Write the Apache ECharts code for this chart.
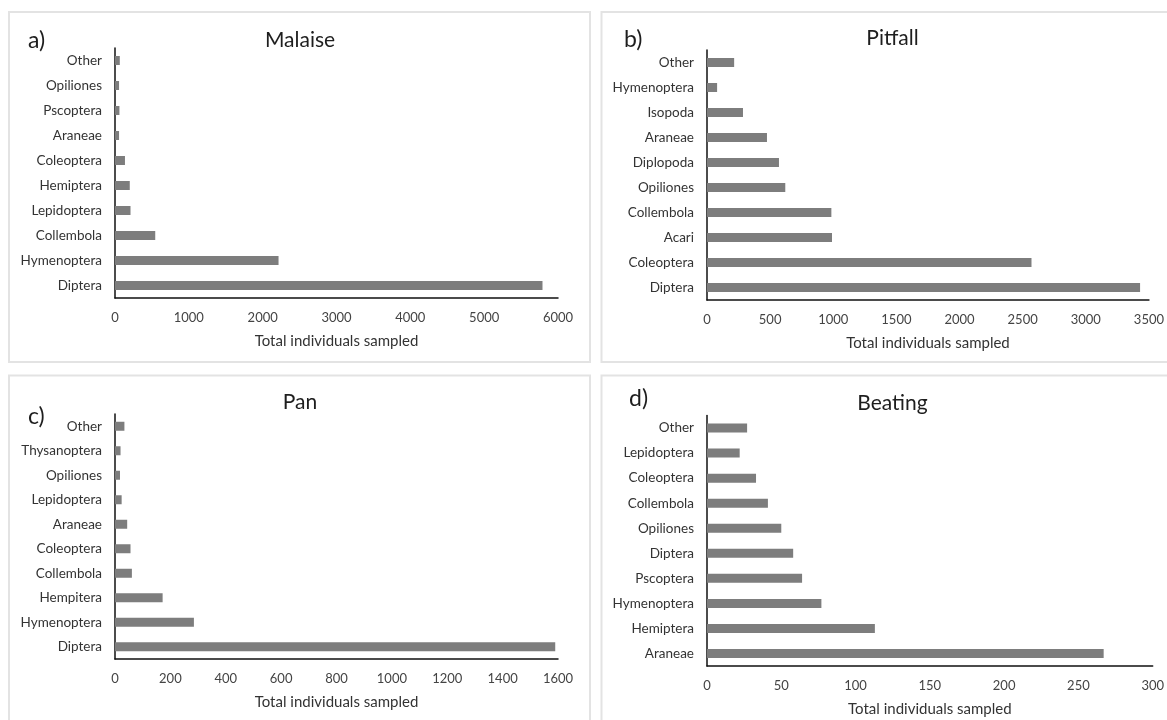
<!DOCTYPE html>
<html>
<head>
<meta charset="utf-8">
<script src="https://cdn.jsdelivr.net/npm/echarts@6/dist/echarts.min.js"></script>
<style>
html,body{margin:0;padding:0;background:#fff;}
#chart{width:1167px;height:720px;}
</style>
</head>
<body>
<div id="chart"></div>
<script>
// Panel a) Malaise
const catA = ['Other','Opiliones','Pscoptera','Araneae','Coleoptera','Hemiptera','Lepidoptera','Collembola','Hymenoptera','Diptera'];
const valA = [65,55,60,55,135,200,210,545,2215,5790];
// Panel b) Pitfall
const catB = ['Other','Hymenoptera','Isopoda','Araneae','Diplopoda','Opiliones','Collembola','Acari','Coleoptera','Diptera'];
const valB = [215,80,285,475,570,620,985,990,2570,3430];
// Panel c) Pan
const catC = ['Other','Thysanoptera','Opiliones','Lepidoptera','Araneae','Coleoptera','Collembola','Hempitera','Hymenoptera','Diptera'];
const valC = [34,20,18,24,44,56,61,172,285,1590];
// Panel d) Beating
const catD = ['Other','Lepidoptera','Coleoptera','Collembola','Opiliones','Diptera','Pscoptera','Hymenoptera','Hemiptera','Araneae'];
const valD = [27,22,33,41,50,58,64,77,113,267];

const titles = ['Malaise','Pitfall','Pan','Beating'];
const letters = ['a)','b)','c)','d)'];
const xTitle = 'Total individuals sampled';

const FONT = 'Lato, "Open Sans", sans-serif';
const cats = [catA,catB,catC,catD];
const vals = [valA,valB,valC,valD];
const axisMax = [6000,3500,1600,300];
const axisInt = [1000,500,200,50];
const grids = [
  {left:115, top:48, width:443, height:250},
  {left:707, top:50, width:444, height:250},
  {left:115, top:414, width:443, height:245},
  {left:707, top:415.5, width:447, height:250.5}
];

const chart = echarts.init(document.getElementById('chart'), null, {renderer:'canvas'});

function txt(text, x, y, size, align) {
  return {type:'text', x:x, y:y, style:{text:text, font:size+'px '+FONT, fill:'#1e1e1e',
    textAlign:align, textVerticalAlign:'middle', align:align, verticalAlign:'middle'}};
}

const option = {
  backgroundColor:'#ffffff',
  animation:false,
  grid: grids.map(g => Object.assign({containLabel:false}, g)),
  xAxis: grids.map((g,i) => ({
    type:'value', gridIndex:i, min:0, max:axisMax[i], interval:axisInt[i],
    name:xTitle, nameLocation:'middle', nameGap:36,
    nameTextStyle:{fontFamily:FONT, fontSize:15, color:'#333'},
    axisLine:{show:true, lineStyle:{color:'#111', width:1.5}},
    axisTick:{show:false},
    splitLine:{show:false},
    axisLabel:{fontFamily:FONT, fontSize:13, color:'#444', margin:13, formatter:function(v){return String(v);}}
  })),
  yAxis: grids.map((g,i) => ({
    type:'category', gridIndex:i, data:cats[i], inverse:true,
    axisLine:{show:true, lineStyle:{color:'#111', width:1.5}},
    axisTick:{show:false},
    splitLine:{show:false},
    axisLabel:{fontFamily:FONT, fontSize:13.5, color:'#333', margin:13}
  })),
  series: vals.map((v,i) => ({
    type:'bar', xAxisIndex:i, yAxisIndex:i, data:v, barWidth:9,
    itemStyle:{color:'#7d7d7d'}
  })),
  graphic: [
    {type:'rect', shape:{x:9,y:12,width:581,height:350}, style:{fill:'none', stroke:'#e3e3e3', lineWidth:2}, z:-1},
    {type:'rect', shape:{x:601.5,y:12,width:580,height:350}, style:{fill:'none', stroke:'#e3e3e3', lineWidth:2}, z:-1},
    {type:'rect', shape:{x:9,y:375.5,width:581,height:360}, style:{fill:'none', stroke:'#e3e3e3', lineWidth:2}, z:-1},
    {type:'rect', shape:{x:601.5,y:375.5,width:580,height:360}, style:{fill:'none', stroke:'#e3e3e3', lineWidth:2}, z:-1},
    txt(titles[0], 300, 40, 21, 'center'),
    txt(titles[1], 892.5, 38, 21, 'center'),
    txt(titles[2], 300, 402, 21, 'center'),
    txt(titles[3], 892.5, 403, 21, 'center'),
    txt(letters[0], 28, 41, 23, 'left'),
    txt(letters[1], 624, 40, 23, 'left'),
    txt(letters[2], 28, 417, 23, 'left'),
    txt(letters[3], 629, 399, 23, 'left')
  ]
};
chart.setOption(option);
</script>
</body>
</html>
